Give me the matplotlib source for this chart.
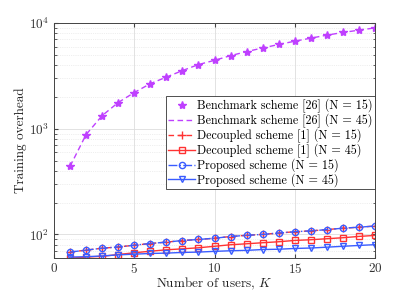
import numpy as np
import matplotlib
matplotlib.use("Agg")
import matplotlib.pyplot as plt
from matplotlib.ticker import LogLocator, NullFormatter

plt.rcParams['font.family'] = 'serif'
plt.rcParams['font.serif'] = ['cmr10', 'DejaVu Serif']
plt.rcParams['mathtext.fontset'] = 'cm'
plt.rcParams['axes.formatter.use_mathtext'] = True

K = list(range(1, 21))
bench_N15 = [440, 880, 1330, 1770, 2200, 2670, 3080, 3550, 4050, 4440,
             4920, 5370, 5820, 6270, 6740, 7200, 7690, 8150, 8570, 9010]
bench_N45 = bench_N15
decoupled_N15 = [68, 71, 74, 76, 79, 82, 84.5, 87.5, 89.5, 92,
                 95.5, 98, 100, 103, 106, 108, 111, 114.5, 117, 120]
decoupled_N45 = [59.5, 61, 62, 64.5, 67, 69.3, 71.5, 73, 74.7, 77.2,
                 79.8, 81.5, 83.4, 85.2, 87.7, 89, 91, 93, 95.7, 97.8]
proposed_N15 = [68, 71, 74, 76, 79, 82, 84.5, 87.5, 89.5, 92,
                95.5, 98, 100, 103, 106, 108, 111, 114.5, 117, 120]
proposed_N45 = [61, 61.5, 62.5, 64, 65, 66, 66.5, 67.5, 68, 69.1,
                70, 70.6, 71.9, 72.4, 73.6, 74.3, 75.7, 77.2, 78.6, 80]

labels = ['Benchmark scheme [26] (N = 15)',
          'Benchmark scheme [26] (N = 45)',
          'Decoupled scheme [1] (N = 15)',
          'Decoupled scheme [1] (N = 45)',
          'Proposed scheme (N = 15)',
          'Proposed scheme (N = 45)']

purple = '#BF40FF'
red = '#FF3333'
blue = '#3A5CFF'

fig = plt.figure(figsize=(4.15, 2.92), dpi=100)
ax = fig.add_axes([0.130, 0.117, 0.774, 0.804])

ax.plot(K, bench_N15, linestyle='none', marker='*', color=purple, markersize=6, label=labels[0])
ax.plot(K, bench_N45, linestyle=(0, (4, 2.5)), color=purple, linewidth=1.0, label=labels[1])
ax.plot(K, decoupled_N15, linestyle=(0, (4, 2.5)), color=red, marker='+', markersize=5.5,
        linewidth=1.0, label=labels[2])
ax.plot(K, decoupled_N45, linestyle='-', color=red, marker='s', markersize=4.5,
        markerfacecolor='none', linewidth=1.0, label=labels[3])
ax.plot(K, proposed_N15, linestyle='-.', color=blue, marker='o', markersize=4.5,
        markerfacecolor='none', linewidth=1.0, label=labels[4])
ax.plot(K, proposed_N45, linestyle='-', color=blue, marker='v', markersize=4.5,
        markerfacecolor='none', linewidth=1.0, label=labels[5])

ax.set_yscale('log')
ax.set_xlim(0, 20)
ax.set_ylim(60, 1e4)
ax.set_xticks([0, 5, 10, 15, 20])
ax.yaxis.set_major_locator(LogLocator(base=10, numticks=10))
ax.yaxis.set_minor_locator(LogLocator(base=10, subs=np.arange(2, 10), numticks=10))
ax.yaxis.set_minor_formatter(NullFormatter())

ax.grid(True, which='major', color='#dddddd', linewidth=0.6, linestyle='-')
ax.grid(True, which='minor', axis='y', color='#e0e0e0', linewidth=0.5, linestyle=':')
ax.set_axisbelow(True)

for s in ax.spines.values():
    s.set_color('#444444')
    s.set_linewidth(0.7)
ax.tick_params(which='both', direction='in', top=True, right=True, colors='#444444',
               labelcolor='#333333', labelsize=9.5)
ax.tick_params(which='major', length=3)
ax.tick_params(which='minor', length=1.8)
ax.tick_params(axis='x', pad=3)

ax.set_xlabel(r'Number of users, $K$', fontsize=9.5, color='#222222', labelpad=0)
ax.set_ylabel('Training overhead', fontsize=9.5, color='#222222', labelpad=1)

leg = ax.legend(loc='upper left', bbox_to_anchor=(0.349, 0.689), fontsize=8.7,
                frameon=True, fancybox=False, edgecolor='#333333', framealpha=1,
                borderpad=0.2, labelspacing=0.07, handlelength=2.2, handletextpad=0.2,
                borderaxespad=0)
leg.get_frame().set_linewidth(0.6)

fig.savefig('out.png', dpi=100)
